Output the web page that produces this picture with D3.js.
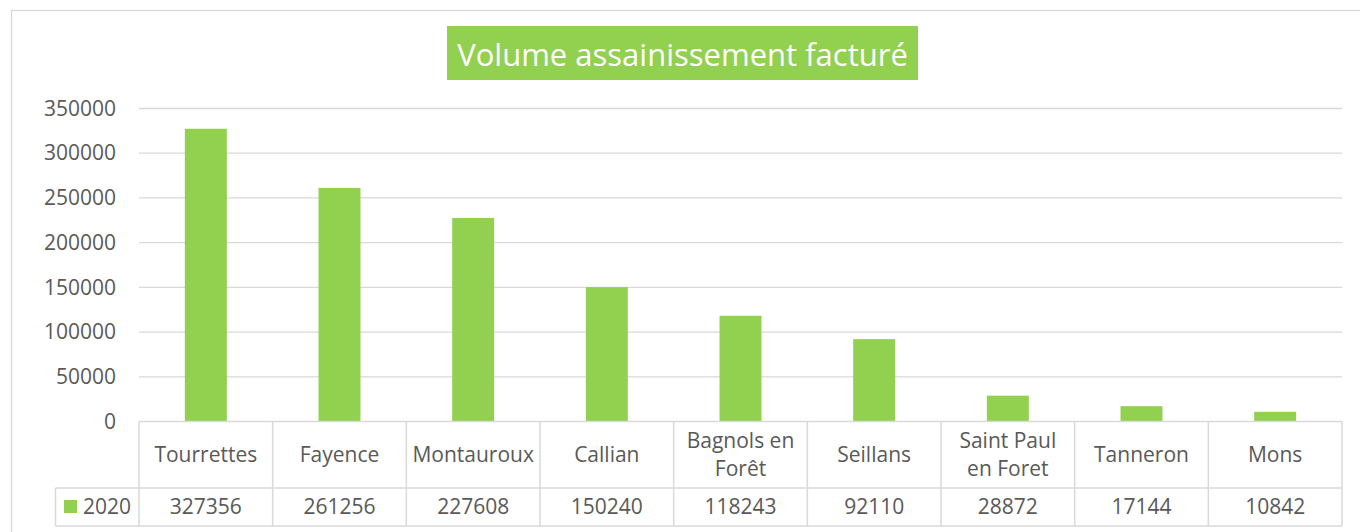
<!DOCTYPE html>
<html>
<head>
<meta charset="utf-8">
<script src="https://cdn.jsdelivr.net/npm/d3@7"></script>
<style>
  html, body { margin: 0; padding: 0; background: #fff; }
  svg { display: block; }
  text { font-family: "Open Sans", sans-serif; }
</style>
</head>
<body>
<svg id="chart" width="1360" height="532"></svg>
<script>
const title = "Volume assainissement facturé";
const categories = ["Tourrettes", "Fayence", "Montauroux", "Callian", "Bagnols en Forêt", "Seillans", "Saint Paul en Foret", "Tanneron", "Mons"];
const seriesName = "2020";
const values = [327356, 261256, 227608, 150240, 118243, 92110, 28872, 17144, 10842];
const yTicks = [0, 50000, 100000, 150000, 200000, 250000, 300000, 350000];

const W = 1360, H = 532;
const green = "#92D050", grid = "#D9D9D9", txt = "#595959";
const fs = "21px";
const svg = d3.select("#chart");

// outer chart border (extends beyond the visible area on right/bottom)
svg.append("rect").attr("x", 11.5).attr("y", 10.5).attr("width", 1400).attr("height", 600)
  .attr("fill", "none").attr("stroke", grid).attr("stroke-width", 1.3);

const plot = { left: 139, right: 1342, top: 108.5, bottom: 421.5 };
const x = d3.scaleBand().domain(categories).range([plot.left, plot.right]).paddingInner(0).paddingOuter(0);
const y = d3.scaleLinear().domain([0, 350000]).range([plot.bottom, plot.top]);

// gridlines
svg.append("g").selectAll("line").data(yTicks.filter(d => d > 0)).join("line")
  .attr("x1", plot.left).attr("x2", plot.right)
  .attr("y1", d => y(d)).attr("y2", d => y(d))
  .attr("stroke", grid).attr("stroke-width", 1.3);

// y axis labels
const yAxis = d3.axisLeft(y).tickValues(yTicks).tickSize(0).tickPadding(0).tickFormat(d3.format("d"));
const yg = svg.append("g").attr("transform", `translate(116,0)`).call(yAxis);
yg.select(".domain").remove();
yg.selectAll("text").attr("fill", txt).style("font-size", fs).style("font-family", "'Open Sans', sans-serif");

// bars
const barFrac = 0.314;
svg.append("g").selectAll("rect").data(values).join("rect")
  .attr("x", (d, i) => x(categories[i]) + x.bandwidth() * (1 - barFrac) / 2)
  .attr("width", x.bandwidth() * barFrac)
  .attr("y", d => y(d))
  .attr("height", d => y(0) - y(d))
  .attr("fill", green);

// data table
const row1Top = plot.bottom, row1Bot = 488, row2Bot = 526, legendLeft = 55.5;
const tg = svg.append("g");
const lineAttrs = sel => sel.attr("stroke", grid).attr("stroke-width", 1.5).attr("fill", "none");
tg.append("line").attr("x1", plot.left).attr("x2", plot.right).attr("y1", row1Top).attr("y2", row1Top).call(lineAttrs);
tg.append("line").attr("x1", legendLeft).attr("x2", plot.right).attr("y1", row1Bot).attr("y2", row1Bot).call(lineAttrs);
tg.append("line").attr("x1", legendLeft).attr("x2", plot.right).attr("y1", row2Bot).attr("y2", row2Bot).call(lineAttrs);
tg.append("line").attr("x1", legendLeft).attr("x2", legendLeft).attr("y1", row1Bot).attr("y2", row2Bot).call(lineAttrs);
categories.forEach(c => {
  tg.append("line").attr("x1", x(c)).attr("x2", x(c)).attr("y1", row1Top).attr("y2", row2Bot).call(lineAttrs);
});
tg.append("line").attr("x1", plot.right).attr("x2", plot.right).attr("y1", row1Top).attr("y2", row2Bot).call(lineAttrs);

// category labels with wrapping
const lineH = 28;
categories.forEach(c => {
  const cx = x(c) + x.bandwidth() / 2;
  const t = tg.append("text").attr("x", cx).attr("text-anchor", "middle").attr("fill", txt)
    .style("font-size", fs);
  const words = c.split(" ");
  let lines = [], cur = [];
  const probe = tg.append("text").style("font-size", fs);
  words.forEach(w => {
    const test = cur.concat([w]).join(" ");
    probe.text(test);
    if (cur.length && probe.node().getComputedTextLength() > x.bandwidth() - 8) {
      lines.push(cur.join(" ")); cur = [w];
    } else cur.push(w);
  });
  lines.push(cur.join(" "));
  probe.remove();
  const midY = (row1Top + row1Bot) / 2 + 7;
  const startY = midY - (lines.length - 1) * lineH / 2;
  lines.forEach((l, i) => t.append("tspan").attr("x", cx).attr("y", startY + i * lineH).text(l));
});

// value row
values.forEach((v, i) => {
  tg.append("text").attr("x", x(categories[i]) + x.bandwidth() / 2).attr("y", (row1Bot + row2Bot) / 2 + 7)
    .attr("text-anchor", "middle").attr("fill", txt).style("font-size", fs).text(v);
});
// legend key
tg.append("rect").attr("x", 64).attr("y", 500).attr("width", 13).attr("height", 13).attr("fill", green);
tg.append("text").attr("x", 83).attr("y", (row1Bot + row2Bot) / 2 + 7).attr("fill", txt).style("font-size", fs).text(seriesName);

// title
svg.append("rect").attr("x", 447).attr("y", 26).attr("width", 471).attr("height", 54).attr("fill", green);
svg.append("text").attr("x", 682.5).attr("y", 65.5).attr("text-anchor", "middle").attr("fill", "#fff")
  .style("font-size", "31px").text(title);
</script>
</body>
</html>
